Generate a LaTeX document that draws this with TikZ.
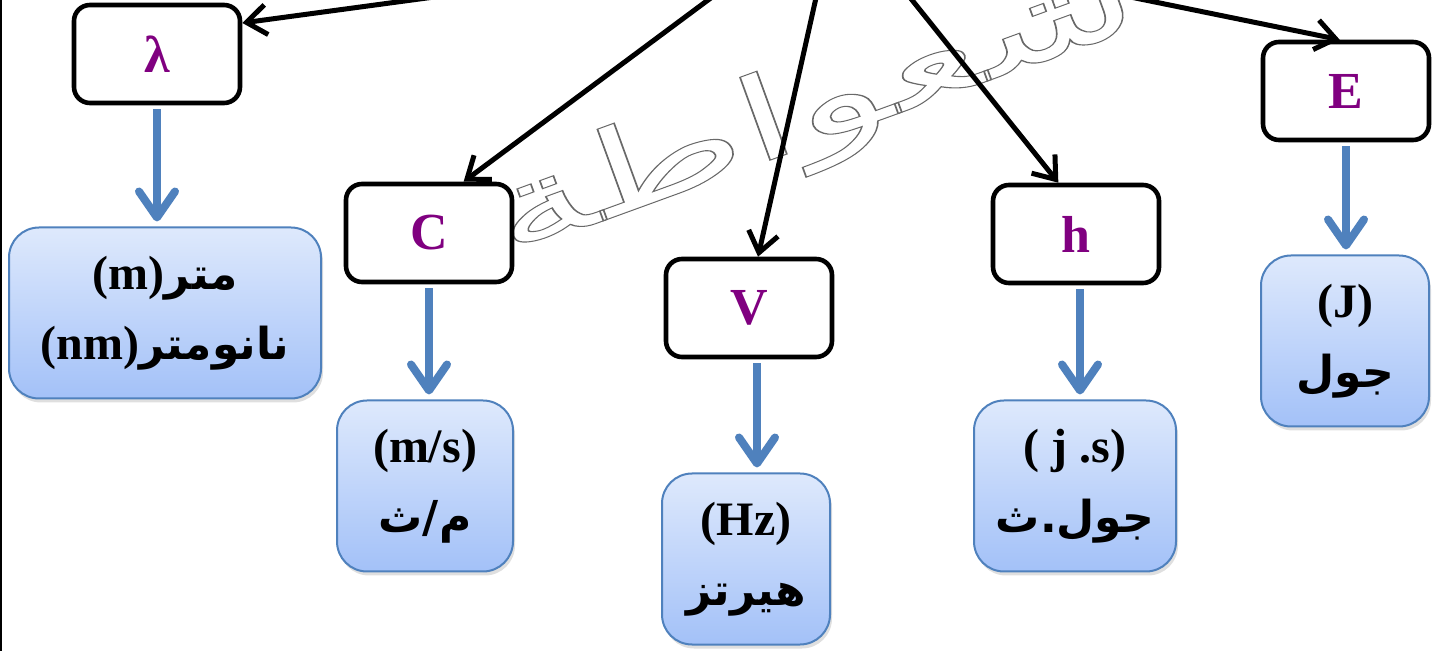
\documentclass[tikz,border=0pt]{standalone}
\usepackage{fontspec}
\setmainfont{Liberation Serif}
\newfontfamily\arabicfont[Script=Arabic]{DejaVu Sans}
\TeXXeTstate=1
\usetikzlibrary{arrows.meta,shadows}
\definecolor{boxblue}{RGB}{79,129,189}
\definecolor{topblue}{RGB}{222,233,252}
\definecolor{botblue}{RGB}{163,193,248}
\definecolor{symb}{RGB}{128,0,128}
\definecolor{wmgray}{RGB}{105,105,105}
\newcommand{\artxt}[1]{{\arabicfont\bfseries\fontsize{22}{34}\selectfont\beginR #1\endR}}
\begin{document}
\begin{tikzpicture}[x=0.5pt,y=-0.5pt,
  symbox/.style={draw=black, line width=2.3pt, rounded corners=8pt, fill=white,
    minimum width=83pt, minimum height=49pt, inner sep=0pt,
    font=\bfseries\fontsize{26}{30}\selectfont, text=symb},
  unitbox/.style={draw=boxblue, line width=1pt, rounded corners=15pt,
    top color=topblue, bottom color=botblue, minimum height=85.5pt, inner sep=0pt,
    align=center, font=\bfseries\fontsize{24}{35}\selectfont,
    drop shadow={shadow xshift=1pt, shadow yshift=-2pt, opacity=0.25}},
  link/.style={line width=2.5pt, -{Straight Barb[length=10pt,width=15pt]}},
  unitlink/.style={boxblue, line width=4pt, -{Straight Barb[length=13pt,width=18pt,round]}},
]
\useasboundingbox (0,0) rectangle (1445,651);
\clip (0,0) rectangle (1445,651);

% watermark
\node[rotate=20, text=wmgray, inner sep=0pt, font=\arabicfont\fontsize{58}{62}\selectfont] (wm) at (815,112)
  {\scalebox{1.7}[1]{\special{pdf:literal direct 1 Tr 0.5 w}\beginR شعواطة\endR\special{pdf:literal direct 0 Tr}}};

% left border
\draw[line width=2pt] (0,0) -- (0,651);

% symbol boxes
\node[symbox] (lam) at (157,54) {λ};
\node[symbox] (C) at (429,233) {C};
\node[symbox] (V) at (749,308) {V};
\node[symbox] (h) at (1076,234) {h};
\node[symbox] (E) at (1346,91) {E};

% unit boxes
\node[unitbox, minimum width=156pt] (ulam) at (165,313) {(m)\artxt{متر}\\(nm)\artxt{نانومتر}};
\node[unitbox, minimum width=88pt] (uC) at (425,486) {(m/s)\\\artxt{م/ث}};
\node[unitbox, minimum width=84pt] (uV) at (746,559) {(Hz)\\\artxt{هيرتز}};
\node[unitbox, minimum width=101pt] (uh) at (1075,486) {( j .s)\\\artxt{جول.ث}};
\node[unitbox, minimum width=84pt] (uE) at (1345,341) {(J)\\\artxt{جول}};

% incoming connectors from the (off-frame) parent
\coordinate (s1) at (560,-20);
\coordinate (s2) at (735,-20);
\coordinate (s3) at (820,-20);
\coordinate (s4) at (896,-20);
\coordinate (s5) at (1047,-20);
\draw[link] (s1) -- (lam.20);
\draw[link] (s2) -- (C.56);
\draw[link] (s3) -- (V.80);
\draw[link] (s4) -- (h.109);
\draw[link] (s5) -- (E.97);

% unit arrows
\draw[unitlink, shorten <=2pt, shorten >=2.5pt] (lam.south) -- (lam.south |- ulam.north);
\draw[unitlink, shorten <=2pt, shorten >=2.5pt] (C.south) -- (C.south |- uC.north);
\draw[unitlink, shorten <=2pt, shorten >=2.5pt] ([xshift=4pt]V.south) -- ([xshift=4pt]V.south |- uV.north);
\draw[unitlink, shorten <=2pt, shorten >=2.5pt] ([xshift=2pt]h.south) -- ([xshift=2pt]h.south |- uh.north);
\draw[unitlink, shorten <=2pt, shorten >=2.5pt] (E.south) -- (E.south |- uE.north);
\end{tikzpicture}
\end{document}
